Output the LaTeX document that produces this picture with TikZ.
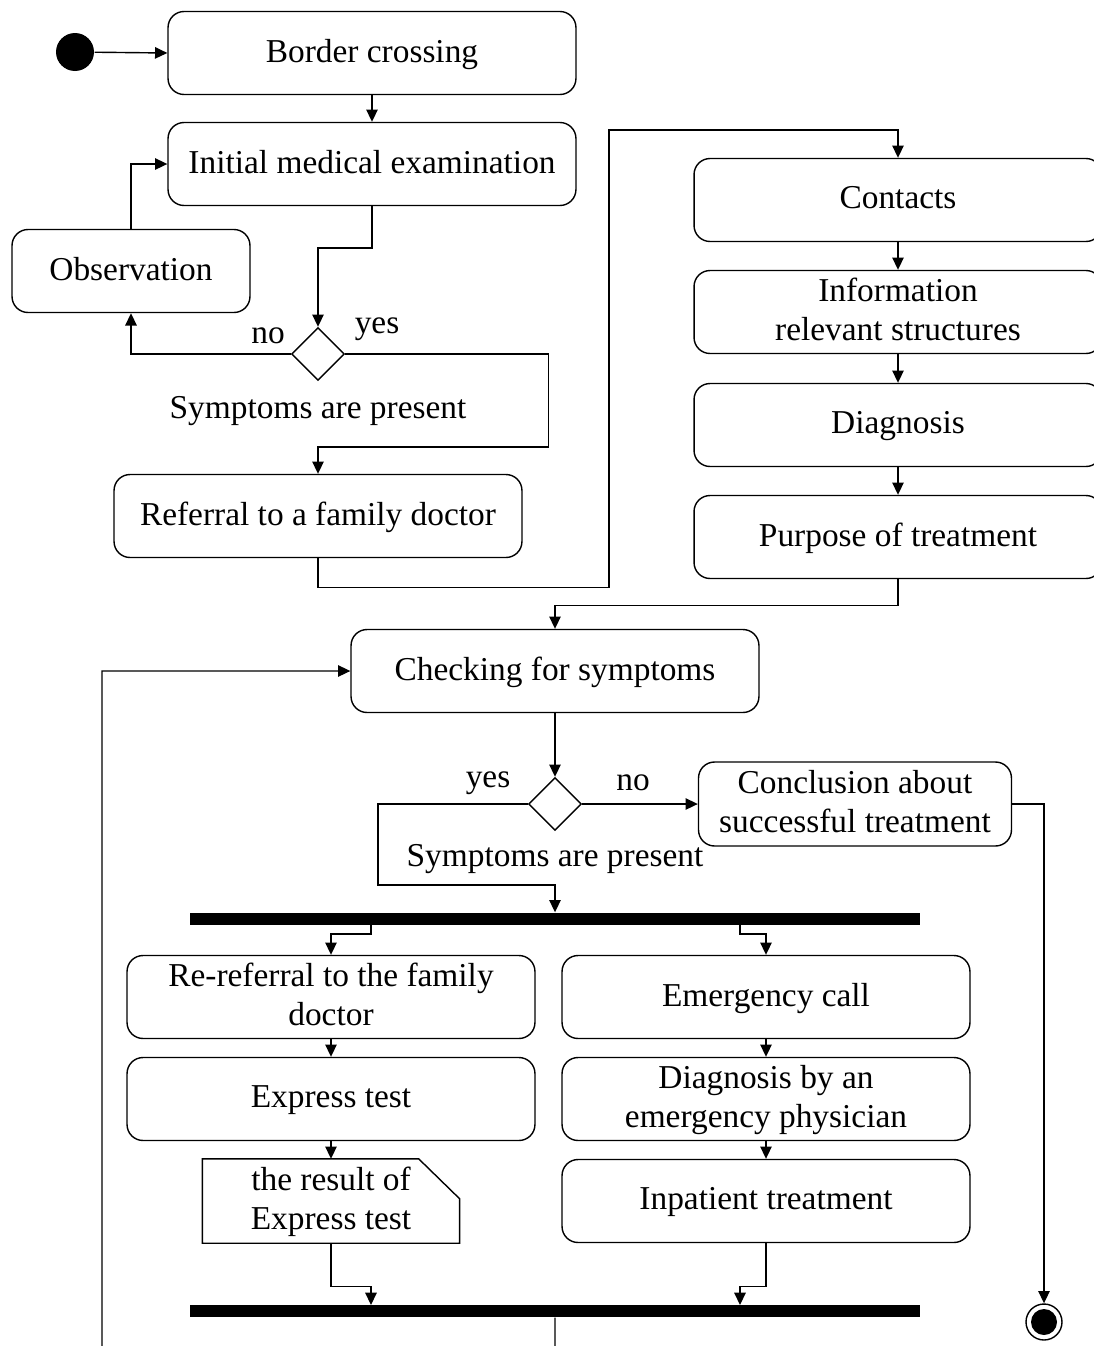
\documentclass[tikz,border=0pt]{standalone}
\usepackage{fontspec}
\setmainfont{Liberation Serif}
\usepackage{tikz}
\usetikzlibrary{arrows.meta}
\usetikzlibrary{shapes.geometric}
\usetikzlibrary{positioning}
\tikzset{arr/.style = {-{Triangle[length=7pt,width=6.5pt]}},
         act/.style = {draw, rounded corners=0.32cm, minimum width=8.16cm,
                       minimum height=1.66cm, align=center, inner sep=2pt,
                       text depth=0.1cm},
         decide/.style = {draw, diamond, minimum width=1.06cm,
                          minimum height=1.06cm, inner sep=0pt},
         bar/.style = {fill=black, minimum width=14.6cm, minimum height=0.24cm,
                       inner sep=0pt},
         initst/.style = {circle, fill=black, minimum size=0.76cm, inner sep=0pt},
         endst/.style = {circle, draw, minimum size=0.72cm, inner sep=0pt,
                         path picture={\fill (path picture bounding box.center) circle (0.26cm);}}}

\begin{document}
\begin{tikzpicture}[x=0.02cm, y=-0.02cm, line width=0.8pt,
                    font=\fontsize{19}{22}\selectfont]
      \useasboundingbox (0,0) rectangle (1094,1346);

      % first part
      \node [initst] (start) at (75,52) {};
      \node [act] (border) at (372,53) {Border crossing};
      \node [act] (init) at (372,164) {Initial medical examination};
      \node [act, minimum width=4.76cm] (obs) at (131,271) {Observation};
      \node [decide] (dec1) at (318,354) {};
      \node (no1) at (268,336) {no};
      \node (yes1) at (377,329) {yes};
      \node (sym1) at (318,411) {Symptoms are present};
      \node [act] (refer) at (318,516) {Referral to a family doctor};

      \draw [arr] (start) -- (border.west);
      \draw [arr] (border) -- (init);
      \draw [arr] (init.south) -- ++(0,42) -| (dec1.north);
      \draw [arr] (dec1.west) -| (obs.south);
      \draw [arr] (obs.north) |- (init.west);
      \draw [arr] (dec1.east) -- ++(203,0) -- ++(0,93) -| (refer.north);

      % right column
      \node [act] (cont) at (898,200) {Contacts};
      \node [act] (info) at (898,312) {Information\\relevant structures};
      \node [act] (diag) at (898,425) {Diagnosis};
      \node [act] (purp) at (898,537) {Purpose of treatment};

      \draw [arr] (refer.south) -- ++(0,29) -- ++(291,0) -- (609,130) -| (cont.north);
      \draw [arr] (cont) -- (info);
      \draw [arr] (info) -- (diag);
      \draw [arr] (diag) -- (purp);

      % checking
      \node [act] (check) at (555,671) {Checking for symptoms};
      \node [decide] (dec2) at (555,804) {};
      \node (yes2) at (488,783) {yes};
      \node (no2) at (633,783) {no};
      \node (sym2) at (555,859) {Symptoms are present};
      \node [act, minimum width=6.26cm, minimum height=1.68cm] (concl) at (855,804)
            {Conclusion about\\successful treatment};
      \node [endst] (end) at (1044,1322) {};

      \draw [arr] (purp.south) -- ++(0,26) -| (check.north);
      \draw [arr] (check) -- (dec2);
      \draw [arr] (dec2.east) -- (concl.west);
      \draw [arr] (concl.east) -| (end.north);

      % fork and join
      \node [bar] (fork) at (555,919) {};
      \node [bar] (join) at (555,1311) {};
      \coordinate (fl) at (371,913);
      \coordinate (fr) at (740,913);
      \coordinate (jl) at (371,1305);
      \coordinate (jr) at (740,1305);
      \coordinate (loop) at (102,1370);

      \draw [arr] (dec2.west) -- ++(-150,0) -- ++(0,81) -| (fork.north);

      \node [act] (reref) at (331,997) {Re-referral to the family\\doctor};
      \node [act] (expr) at (331,1099) {Express test};
      \node [minimum width=5.12cm, minimum height=1.66cm, align=center,
             text depth=0.1cm] (res) at (331,1201) {the result of\\Express test};
      \draw (res.south west) -- (res.north west) -- ([xshift=-0.82cm]res.north east)
            -- ([yshift=-0.8cm]res.north east) -- (res.south east) -- cycle;

      \node [act] (emer) at (766,997) {Emergency call};
      \node [act] (dphys) at (766,1099) {Diagnosis by an\\emergency physician};
      \node [act] (inpat) at (766,1201) {Inpatient treatment};

      \draw [arr] (fl) -- ++(0,21) -| (reref.north);
      \draw [arr] (fr) -- ++(0,21) -| (emer.north);
      \draw [arr] (reref) -- (expr);
      \draw [arr] (expr) -- (res);
      \draw [arr] (emer) -- (dphys);
      \draw [arr] (dphys) -- (inpat);
      \draw [arr] (res.south) -- ++(0,43) -| (jl);
      \draw [arr] (inpat.south) -- ++(0,43) -| (jr);

      \draw [arr] (join.south) -- ++(0,53) -- (loop) |- (check.west);
\end{tikzpicture}
\end{document}
